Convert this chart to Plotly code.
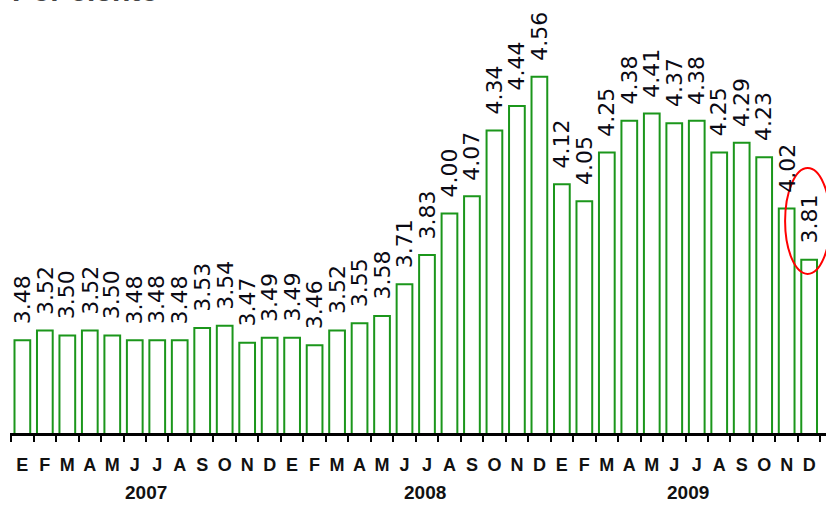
import plotly.graph_objects as go

# Monthly values, Jan 2007 - Dec 2009 (per cent)
months = ["E", "F", "M", "A", "M", "J", "J", "A", "S", "O", "N", "D"] * 3
years = ["2007", "2008", "2009"]
values = [
    3.48, 3.52, 3.50, 3.52, 3.50, 3.48, 3.48, 3.48, 3.53, 3.54, 3.47, 3.49,
    3.49, 3.46, 3.52, 3.55, 3.58, 3.71, 3.83, 4.00, 4.07, 4.34, 4.44, 4.56,
    4.12, 4.05, 4.25, 4.38, 4.41, 4.37, 4.38, 4.25, 4.29, 4.23, 4.02, 3.81,
]
labels = ["{:.2f}".format(v) for v in values]

x = list(range(len(values)))
green = "#1b961b"
narrow = "Liberation Sans Narrow, Arial Narrow, Liberation Sans, Arial"

fig = go.Figure()
fig.add_trace(go.Bar(
    x=x, y=values,
    marker=dict(color="white", line=dict(color=green, width=2)),
    hoverinfo="skip",
))

# value labels, rotated above each bar
annotations = []
for xi, v, t in zip(x, values, labels):
    annotations.append(dict(
        x=xi, y=v, xref="x", yref="y", text=t, textangle=-90,
        showarrow=False, yanchor="bottom", xanchor="center", yshift=14,
        font=dict(family="DejaVu Sans", size=22, color="#0a0a14"),
    ))

# year labels under the month letters
year_pos = [5.5, 17.9, 29.6]
for yp, yr in zip(year_pos, years):
    annotations.append(dict(
        x=yp, y=0, xref="x", yref="paper", text="<b>" + yr + "</b>",
        showarrow=False, yanchor="middle", yshift=-59,
        font=dict(family=narrow, size=19, color="#111111"),
    ))

# title, mostly cut off at the top of the picture
annotations.append(dict(
    x=0, y=1, xref="paper", yref="paper", text="<b>Por ciento</b>",
    showarrow=False, xanchor="left", yanchor="bottom", yshift=-9,
    font=dict(family="Liberation Sans, Arial", size=30, color="#444444"),
))

# red ellipse around the last value
last = len(values) - 1
shapes = [dict(
    type="circle", xref="x", yref="y",
    x0=last - 1.07, x1=last + 0.94,
    y0=values[last] - 0.058, y1=values[last] + 0.376,
    line=dict(color="red", width=2),
)]

fig.update_layout(
    width=832, height=507,
    margin=dict(l=10, r=6, t=0, b=74),
    paper_bgcolor="white", plot_bgcolor="white",
    showlegend=False, bargap=0.3,
    annotations=annotations, shapes=shapes,
    xaxis=dict(
        range=[-0.55, 35.75],
        tickmode="array", tickvals=x, ticktext=["<b>" + m + "</b>" for m in months],
        ticks="", showgrid=False, zeroline=False,
        showline=True, linecolor="black", linewidth=3,
        ticklabelstandoff=13,
        tickfont=dict(family=narrow, size=18, color="#111111"),
        minor=dict(tickmode="array", tickvals=[i - 0.5 for i in range(len(values) + 1)],
                   ticks="outside", ticklen=6, tickwidth=2, tickcolor="black"),
    ),
    yaxis=dict(
        range=[3.1, 4.875], visible=False, showgrid=False, zeroline=False,
    ),
)

# drop the default page margin so the figure fills the window
fig.write_html("out.html", config={"displayModeBar": False},
               post_script="document.body.style.margin = '0';")
